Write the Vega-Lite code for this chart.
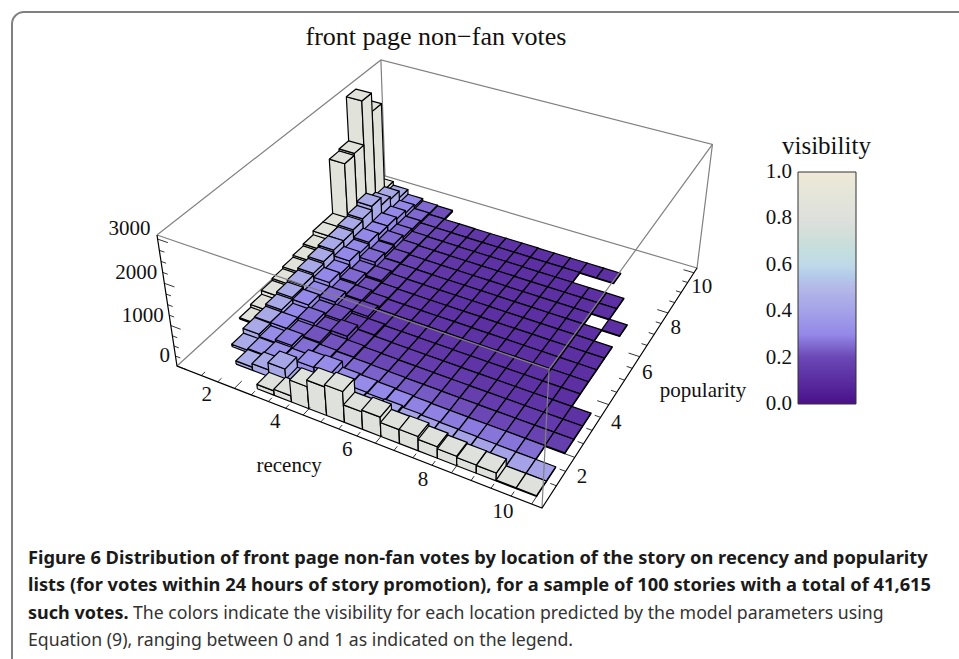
{"$schema":"https://vega.github.io/schema/vega-lite/v6.json","width":959,"height":659,"padding":0,"autosize":{"type":"none"},"background":"white","config":{"view":{"stroke":null}},
"data":{"values":[{}]},
"title":{"text":"front page non−fan votes","orient":"top","anchor":"start","offset":0,"dx":306,"dy":50,"font":"Liberation Serif","fontSize":26,"fontWeight":"normal","color":"#111"},
"layer":[
{"mark":{"type":"rect","x":12,"y":12,"x2":990,"y2":690,"cornerRadius":12,"fill":"white","stroke":"#808080","strokeWidth":2}},
{"mark":{"type":"rule","x":24,"x2":959,"y":12,"y2":12,"stroke":"#000","strokeWidth":1.5},"encoding":{}},
{"data":{"values":[{"edge":"a","n":0,"r":0.25,"p":0.25,"votes":3090},{"edge":"a","n":1,"r":0.25,"p":10.25,"votes":3090},{"edge":"a","n":2,"r":10.25,"p":10.25,"votes":3090},{"edge":"a","n":3,"r":10.25,"p":10.25,"votes":0},{"edge":"a","n":4,"r":0.25,"p":10.25,"votes":0},{"edge":"a","n":5,"r":0.25,"p":0.25,"votes":0},{"edge":"b","n":0,"r":0.25,"p":10.25,"votes":0},{"edge":"b","n":1,"r":0.25,"p":10.25,"votes":3090}]},
"transform":[{"calculate":"(datum.r-0.25)/10","as":"u"},{"calculate":"(datum.p-0.25)/10","as":"v"},{"calculate":"datum.votes/3090","as":"t"},{"calculate":"1-0.1203*datum.u+0.2296*datum.v-0.0668*datum.t","as":"w"},{"calculate":"(299.8*datum.u+296.4*datum.v+177-30.5*datum.t)/datum.w","as":"sx"},{"calculate":"(80.9*datum.u-149.6*datum.v+366-146.7*datum.t)/datum.w","as":"sy"}],
"mark":{"type":"line","stroke":"#808080","strokeWidth":1.2},"encoding":{"x":{"field":"sx","type":"quantitative","scale":{"domain":[0,959]},"axis":null},"y":{"field":"sy","type":"quantitative","scale":{"domain":[0,659],"reverse":true},"axis":null},"detail":{"field":"edge"},"order":{"field":"n"}}},
{"data":{"values":[
{"r":0.5,"p":9,"votes":350,"vis":0.85},{"r":1,"p":9,"votes":250,"vis":0.43},{"r":1.5,"p":9,"votes":120,"vis":0.3},{"r":2,"p":9,"votes":60,"vis":0.25},{"r":2.5,"p":9,"votes":40,"vis":0.21},
{"r":0.5,"p":8.5,"votes":2600,"vis":0.85},{"r":1,"p":8.5,"votes":430,"vis":0.43},{"r":1.5,"p":8.5,"votes":180,"vis":0.3},{"r":2,"p":8.5,"votes":80,"vis":0.25},{"r":2.5,"p":8.5,"votes":40,"vis":0.21},{"r":3,"p":8.5,"votes":30,"vis":0.18},{"r":3.5,"p":8.5,"votes":30,"vis":0.16},{"r":4,"p":8.5,"votes":25,"vis":0.14},{"r":4.5,"p":8.5,"votes":25,"vis":0.12},{"r":5,"p":8.5,"votes":25,"vis":0.12},{"r":5.5,"p":8.5,"votes":25,"vis":0.11},{"r":6,"p":8.5,"votes":20,"vis":0.11},{"r":6.5,"p":8.5,"votes":20,"vis":0.11},{"r":7,"p":8.5,"votes":20,"vis":0.11},{"r":7.5,"p":8.5,"votes":20,"vis":0.11},{"r":8,"p":8.5,"votes":20,"vis":0.11},
{"r":0.5,"p":8,"votes":3050,"vis":0.85},{"r":1,"p":8,"votes":500,"vis":0.43},{"r":1.5,"p":8,"votes":250,"vis":0.3},{"r":2,"p":8,"votes":100,"vis":0.25},{"r":2.5,"p":8,"votes":40,"vis":0.21},{"r":3,"p":8,"votes":35,"vis":0.18},{"r":3.5,"p":8,"votes":30,"vis":0.16},{"r":4,"p":8,"votes":25,"vis":0.14},{"r":4.5,"p":8,"votes":25,"vis":0.12},{"r":5,"p":8,"votes":25,"vis":0.12},{"r":5.5,"p":8,"votes":25,"vis":0.11},{"r":6,"p":8,"votes":20,"vis":0.11},{"r":6.5,"p":8,"votes":20,"vis":0.11},{"r":7,"p":8,"votes":20,"vis":0.11},
{"r":0.5,"p":7.5,"votes":1950,"vis":0.85},{"r":1,"p":7.5,"votes":700,"vis":0.43},{"r":1.5,"p":7.5,"votes":300,"vis":0.3},{"r":2,"p":7.5,"votes":120,"vis":0.25},{"r":2.5,"p":7.5,"votes":50,"vis":0.21},{"r":3,"p":7.5,"votes":35,"vis":0.18},{"r":3.5,"p":7.5,"votes":30,"vis":0.16},{"r":4,"p":7.5,"votes":25,"vis":0.14},{"r":4.5,"p":7.5,"votes":25,"vis":0.12},{"r":5,"p":7.5,"votes":25,"vis":0.12},{"r":5.5,"p":7.5,"votes":25,"vis":0.11},{"r":6,"p":7.5,"votes":20,"vis":0.11},{"r":6.5,"p":7.5,"votes":20,"vis":0.11},{"r":7,"p":7.5,"votes":20,"vis":0.11},{"r":7.5,"p":7.5,"votes":20,"vis":0.11},{"r":8,"p":7.5,"votes":20,"vis":0.11},{"r":8.5,"p":7.5,"votes":20,"vis":0.11},
{"r":0.5,"p":7,"votes":1900,"vis":0.85},{"r":1,"p":7,"votes":600,"vis":0.43},{"r":1.5,"p":7,"votes":300,"vis":0.3},{"r":2,"p":7,"votes":180,"vis":0.25},{"r":2.5,"p":7,"votes":60,"vis":0.21},{"r":3,"p":7,"votes":35,"vis":0.18},{"r":3.5,"p":7,"votes":30,"vis":0.16},{"r":4,"p":7,"votes":25,"vis":0.14},{"r":4.5,"p":7,"votes":25,"vis":0.12},{"r":5,"p":7,"votes":25,"vis":0.12},{"r":5.5,"p":7,"votes":25,"vis":0.11},{"r":6,"p":7,"votes":20,"vis":0.11},{"r":6.5,"p":7,"votes":20,"vis":0.11},{"r":7,"p":7,"votes":20,"vis":0.11},{"r":7.5,"p":7,"votes":20,"vis":0.11},{"r":8,"p":7,"votes":20,"vis":0.11},{"r":8.5,"p":7,"votes":20,"vis":0.11},
{"r":0.5,"p":6.5,"votes":500,"vis":0.85},{"r":1,"p":6.5,"votes":550,"vis":0.43},{"r":1.5,"p":6.5,"votes":350,"vis":0.3},{"r":2,"p":6.5,"votes":150,"vis":0.25},{"r":2.5,"p":6.5,"votes":70,"vis":0.21},{"r":3,"p":6.5,"votes":35,"vis":0.18},{"r":3.5,"p":6.5,"votes":30,"vis":0.16},{"r":4,"p":6.5,"votes":25,"vis":0.14},{"r":4.5,"p":6.5,"votes":25,"vis":0.12},{"r":5,"p":6.5,"votes":25,"vis":0.12},{"r":5.5,"p":6.5,"votes":25,"vis":0.11},{"r":6,"p":6.5,"votes":20,"vis":0.11},{"r":6.5,"p":6.5,"votes":20,"vis":0.11},{"r":7,"p":6.5,"votes":20,"vis":0.11},{"r":7.5,"p":6.5,"votes":20,"vis":0.11},{"r":8,"p":6.5,"votes":20,"vis":0.11},{"r":9,"p":6.5,"votes":20,"vis":0.11},
{"r":0.5,"p":6,"votes":500,"vis":0.85},{"r":1,"p":6,"votes":500,"vis":0.43},{"r":1.5,"p":6,"votes":300,"vis":0.3},{"r":2,"p":6,"votes":200,"vis":0.25},{"r":2.5,"p":6,"votes":60,"vis":0.21},{"r":3,"p":6,"votes":40,"vis":0.18},{"r":3.5,"p":6,"votes":30,"vis":0.16},{"r":4,"p":6,"votes":25,"vis":0.14},{"r":4.5,"p":6,"votes":25,"vis":0.12},{"r":5,"p":6,"votes":25,"vis":0.12},{"r":5.5,"p":6,"votes":25,"vis":0.11},{"r":6,"p":6,"votes":20,"vis":0.11},{"r":6.5,"p":6,"votes":20,"vis":0.11},{"r":7,"p":6,"votes":20,"vis":0.11},{"r":7.5,"p":6,"votes":20,"vis":0.11},{"r":8,"p":6,"votes":20,"vis":0.11},{"r":8.5,"p":6,"votes":20,"vis":0.11},
{"r":0.5,"p":5.5,"votes":400,"vis":0.85},{"r":1,"p":5.5,"votes":500,"vis":0.43},{"r":1.5,"p":5.5,"votes":350,"vis":0.3},{"r":2,"p":5.5,"votes":120,"vis":0.25},{"r":2.5,"p":5.5,"votes":110,"vis":0.21},{"r":3,"p":5.5,"votes":40,"vis":0.18},{"r":3.5,"p":5.5,"votes":30,"vis":0.16},{"r":4,"p":5.5,"votes":25,"vis":0.14},{"r":4.5,"p":5.5,"votes":25,"vis":0.12},{"r":5,"p":5.5,"votes":25,"vis":0.12},{"r":5.5,"p":5.5,"votes":25,"vis":0.11},{"r":6,"p":5.5,"votes":20,"vis":0.11},{"r":6.5,"p":5.5,"votes":20,"vis":0.11},{"r":7,"p":5.5,"votes":20,"vis":0.11},{"r":7.5,"p":5.5,"votes":20,"vis":0.11},{"r":8,"p":5.5,"votes":20,"vis":0.11},{"r":8.5,"p":5.5,"votes":20,"vis":0.11},{"r":9,"p":5.5,"votes":20,"vis":0.11},
{"r":0.5,"p":5,"votes":350,"vis":0.85},{"r":1,"p":5,"votes":450,"vis":0.43},{"r":1.5,"p":5,"votes":250,"vis":0.3},{"r":2,"p":5,"votes":170,"vis":0.25},{"r":2.5,"p":5,"votes":70,"vis":0.21},{"r":3,"p":5,"votes":50,"vis":0.18},{"r":3.5,"p":5,"votes":30,"vis":0.16},{"r":4,"p":5,"votes":25,"vis":0.14},{"r":4.5,"p":5,"votes":25,"vis":0.12},{"r":5,"p":5,"votes":25,"vis":0.12},{"r":5.5,"p":5,"votes":25,"vis":0.12},{"r":6,"p":5,"votes":20,"vis":0.11},{"r":6.5,"p":5,"votes":20,"vis":0.11},{"r":7,"p":5,"votes":20,"vis":0.11},{"r":7.5,"p":5,"votes":20,"vis":0.11},{"r":8,"p":5,"votes":20,"vis":0.11},{"r":8.5,"p":5,"votes":20,"vis":0.11},{"r":9,"p":5,"votes":20,"vis":0.11},
{"r":0.5,"p":4.5,"votes":300,"vis":0.85},{"r":1,"p":4.5,"votes":400,"vis":0.43},{"r":1.5,"p":4.5,"votes":300,"vis":0.3},{"r":2,"p":4.5,"votes":130,"vis":0.25},{"r":2.5,"p":4.5,"votes":120,"vis":0.21},{"r":3,"p":4.5,"votes":60,"vis":0.18},{"r":3.5,"p":4.5,"votes":30,"vis":0.16},{"r":4,"p":4.5,"votes":30,"vis":0.14},{"r":4.5,"p":4.5,"votes":25,"vis":0.13},{"r":5,"p":4.5,"votes":25,"vis":0.13},{"r":5.5,"p":4.5,"votes":25,"vis":0.12},{"r":6,"p":4.5,"votes":20,"vis":0.12},{"r":6.5,"p":4.5,"votes":20,"vis":0.11},{"r":7,"p":4.5,"votes":20,"vis":0.11},{"r":7.5,"p":4.5,"votes":20,"vis":0.11},{"r":8,"p":4.5,"votes":20,"vis":0.11},{"r":8.5,"p":4.5,"votes":20,"vis":0.11},{"r":9,"p":4.5,"votes":20,"vis":0.11},
{"r":0.5,"p":4,"votes":250,"vis":0.85},{"r":1,"p":4,"votes":350,"vis":0.43},{"r":1.5,"p":4,"votes":200,"vis":0.3},{"r":2,"p":4,"votes":200,"vis":0.25},{"r":2.5,"p":4,"votes":90,"vis":0.21},{"r":3,"p":4,"votes":120,"vis":0.18},{"r":3.5,"p":4,"votes":40,"vis":0.16},{"r":4,"p":4,"votes":30,"vis":0.14},{"r":4.5,"p":4,"votes":30,"vis":0.14},{"r":5,"p":4,"votes":25,"vis":0.13},{"r":5.5,"p":4,"votes":25,"vis":0.13},{"r":6,"p":4,"votes":20,"vis":0.12},{"r":6.5,"p":4,"votes":20,"vis":0.12},{"r":7,"p":4,"votes":20,"vis":0.11},{"r":7.5,"p":4,"votes":20,"vis":0.11},{"r":8,"p":4,"votes":20,"vis":0.11},{"r":8.5,"p":4,"votes":20,"vis":0.11},{"r":9,"p":4,"votes":20,"vis":0.11},
{"r":0.5,"p":3.5,"votes":200,"vis":0.85},{"r":1,"p":3.5,"votes":300,"vis":0.43},{"r":1.5,"p":3.5,"votes":250,"vis":0.3},{"r":2,"p":3.5,"votes":120,"vis":0.25},{"r":2.5,"p":3.5,"votes":150,"vis":0.21},{"r":3,"p":3.5,"votes":60,"vis":0.18},{"r":3.5,"p":3.5,"votes":70,"vis":0.16},{"r":4,"p":3.5,"votes":30,"vis":0.16},{"r":4.5,"p":3.5,"votes":30,"vis":0.15},{"r":5,"p":3.5,"votes":25,"vis":0.14},{"r":5.5,"p":3.5,"votes":25,"vis":0.14},{"r":6,"p":3.5,"votes":20,"vis":0.13},{"r":6.5,"p":3.5,"votes":20,"vis":0.13},{"r":7,"p":3.5,"votes":20,"vis":0.12},{"r":7.5,"p":3.5,"votes":20,"vis":0.12},{"r":8,"p":3.5,"votes":20,"vis":0.12},{"r":8.5,"p":3.5,"votes":20,"vis":0.11},{"r":9,"p":3.5,"votes":20,"vis":0.11},
{"r":0.5,"p":3,"votes":100,"vis":0.85},{"r":1,"p":3,"votes":250,"vis":0.43},{"r":1.5,"p":3,"votes":150,"vis":0.3},{"r":2,"p":3,"votes":200,"vis":0.25},{"r":2.5,"p":3,"votes":100,"vis":0.21},{"r":3,"p":3,"votes":170,"vis":0.2},{"r":3.5,"p":3,"votes":60,"vis":0.18},{"r":4,"p":3,"votes":40,"vis":0.18},{"r":4.5,"p":3,"votes":30,"vis":0.17},{"r":5,"p":3,"votes":30,"vis":0.16},{"r":5.5,"p":3,"votes":25,"vis":0.16},{"r":6,"p":3,"votes":25,"vis":0.15},{"r":6.5,"p":3,"votes":20,"vis":0.15},{"r":7,"p":3,"votes":20,"vis":0.14},{"r":7.5,"p":3,"votes":20,"vis":0.14},{"r":8,"p":3,"votes":20,"vis":0.13},{"r":8.5,"p":3,"votes":20,"vis":0.13},{"r":9,"p":3,"votes":20,"vis":0.12},{"r":9.5,"p":3,"votes":20,"vis":0.12},
{"r":0.5,"p":2.5,"votes":30,"vis":0.85},{"r":1,"p":2.5,"votes":200,"vis":0.43},{"r":1.5,"p":2.5,"votes":200,"vis":0.3},{"r":2,"p":2.5,"votes":130,"vis":0.25},{"r":2.5,"p":2.5,"votes":150,"vis":0.22},{"r":3,"p":2.5,"votes":90,"vis":0.22},{"r":3.5,"p":2.5,"votes":80,"vis":0.21},{"r":4,"p":2.5,"votes":50,"vis":0.2},{"r":4.5,"p":2.5,"votes":40,"vis":0.2},{"r":5,"p":2.5,"votes":30,"vis":0.19},{"r":5.5,"p":2.5,"votes":30,"vis":0.18},{"r":6,"p":2.5,"votes":25,"vis":0.18},{"r":6.5,"p":2.5,"votes":25,"vis":0.17},{"r":7,"p":2.5,"votes":20,"vis":0.17},{"r":7.5,"p":2.5,"votes":20,"vis":0.16},{"r":8,"p":2.5,"votes":20,"vis":0.16},{"r":8.5,"p":2.5,"votes":20,"vis":0.15},{"r":9,"p":2.5,"votes":20,"vis":0.15},{"r":9.5,"p":2.5,"votes":20,"vis":0.14},
{"r":1,"p":2,"votes":180,"vis":0.43},{"r":1.5,"p":2,"votes":120,"vis":0.32},{"r":2,"p":2,"votes":200,"vis":0.28},{"r":2.5,"p":2,"votes":120,"vis":0.26},{"r":3,"p":2,"votes":100,"vis":0.26},{"r":3.5,"p":2,"votes":70,"vis":0.25},{"r":4,"p":2,"votes":60,"vis":0.25},{"r":4.5,"p":2,"votes":50,"vis":0.24},{"r":5,"p":2,"votes":40,"vis":0.24},{"r":5.5,"p":2,"votes":30,"vis":0.23},{"r":6,"p":2,"votes":30,"vis":0.23},{"r":6.5,"p":2,"votes":25,"vis":0.22},{"r":7,"p":2,"votes":25,"vis":0.21},{"r":7.5,"p":2,"votes":20,"vis":0.2},{"r":8,"p":2,"votes":20,"vis":0.2},{"r":8.5,"p":2,"votes":20,"vis":0.19},{"r":9,"p":2,"votes":20,"vis":0.18},{"r":9.5,"p":2,"votes":20,"vis":0.17},
{"r":1,"p":1.5,"votes":60,"vis":0.44},{"r":1.5,"p":1.5,"votes":100,"vis":0.36},{"r":2,"p":1.5,"votes":150,"vis":0.33},{"r":2.5,"p":1.5,"votes":130,"vis":0.33},{"r":3,"p":1.5,"votes":250,"vis":0.32},{"r":3.5,"p":1.5,"votes":270,"vis":0.32},{"r":4,"p":1.5,"votes":120,"vis":0.31},{"r":4.5,"p":1.5,"votes":100,"vis":0.31},{"r":5,"p":1.5,"votes":80,"vis":0.3},{"r":5.5,"p":1.5,"votes":60,"vis":0.3},{"r":6,"p":1.5,"votes":40,"vis":0.29},{"r":6.5,"p":1.5,"votes":30,"vis":0.29},{"r":7,"p":1.5,"votes":25,"vis":0.28},{"r":7.5,"p":1.5,"votes":20,"vis":0.28},{"r":8,"p":1.5,"votes":20,"vis":0.27},{"r":8.5,"p":1.5,"votes":20,"vis":0.27},{"r":9,"p":1.5,"votes":20,"vis":0.26},
{"r":1.5,"p":1,"votes":80,"vis":0.46},{"r":2,"p":1,"votes":170,"vis":0.43},{"r":2.5,"p":1,"votes":350,"vis":0.42},{"r":3,"p":1,"votes":100,"vis":0.42},{"r":3.5,"p":1,"votes":100,"vis":0.41},{"r":4,"p":1,"votes":80,"vis":0.41},{"r":4.5,"p":1,"votes":120,"vis":0.41},{"r":5,"p":1,"votes":100,"vis":0.41},{"r":5.5,"p":1,"votes":120,"vis":0.41},{"r":6,"p":1,"votes":80,"vis":0.4},{"r":6.5,"p":1,"votes":60,"vis":0.4},{"r":7,"p":1,"votes":50,"vis":0.4},{"r":7.5,"p":1,"votes":40,"vis":0.4},{"r":8,"p":1,"votes":30,"vis":0.4},{"r":8.5,"p":1,"votes":25,"vis":0.4},{"r":9,"p":1,"votes":20,"vis":0.4},{"r":9.5,"p":1,"votes":20,"vis":0.4},
{"r":2.5,"p":0.5,"votes":110,"vis":0.82},{"r":3,"p":0.5,"votes":150,"vis":0.82},{"r":3.5,"p":0.5,"votes":540,"vis":0.82},{"r":4,"p":0.5,"votes":700,"vis":0.82},{"r":4.5,"p":0.5,"votes":750,"vis":0.82},{"r":5,"p":0.5,"votes":430,"vis":0.82},{"r":5.5,"p":0.5,"votes":470,"vis":0.82},{"r":6,"p":0.5,"votes":340,"vis":0.82},{"r":6.5,"p":0.5,"votes":350,"vis":0.82},{"r":7,"p":0.5,"votes":280,"vis":0.82},{"r":7.5,"p":0.5,"votes":230,"vis":0.82},{"r":8,"p":0.5,"votes":200,"vis":0.82},{"r":8.5,"p":0.5,"votes":190,"vis":0.82},{"r":9,"p":0.5,"votes":20,"vis":0.82},{"r":9.5,"p":0.5,"votes":20,"vis":0.82}
]},
"transform":[{"calculate":"[0,1,2,3,4,5,6,7,8,9,10,11,12,13,14]","as":"corner"},{"flatten":["corner"]},{"calculate":"datum.r+'_'+datum.p+'_'+floor(datum.corner/5)","as":"face"},{"calculate":"(datum.r+0.5*[0,1,1,0,0,1,1,1,1,1,0,1,1,0,0][datum.corner]-0.25)/10","as":"u"},{"calculate":"(datum.p+0.5*[0,0,0,0,0,0,1,1,0,0,0,0,1,1,0][datum.corner]-0.25)/10","as":"v"},{"calculate":"[0,0,1,1,0,0,0,1,1,0,1,1,1,1,1][datum.corner]*datum.votes/3090","as":"t"},{"calculate":"1-0.1203*datum.u+0.2296*datum.v-0.0668*datum.t","as":"w"},{"calculate":"(299.8*datum.u+296.4*datum.v+177-30.5*datum.t)/datum.w","as":"sx"},{"calculate":"(80.9*datum.u-149.6*datum.v+366-146.7*datum.t)/datum.w","as":"sy"}],
"mark":{"type":"line","stroke":"#000","strokeWidth":1.2,"strokeJoin":"round"},
"encoding":{"x":{"field":"sx","type":"quantitative","scale":{"domain":[0,959]},"axis":null},"y":{"field":"sy","type":"quantitative","scale":{"domain":[0,659],"reverse":true},"axis":null},"detail":{"field":"face"},"order":{"field":"corner"},"fill":{"field":"vis","type":"quantitative","scale":{"domain":[0,0.1,0.2,0.3,0.4,0.5,0.6,0.8,1],"range":["#4A0F8A","#5A2CA0","#6B47B5","#9488E8","#A5A2E8","#B3B8E8","#C0D9E8","#DEE0DC","#EFE9D7"]},"legend":{"orient":"none","legendX":782,"legendY":134,"title":"visibility","titleFont":"Liberation Serif","titleFontSize":25,"titleFontWeight":"normal","titleColor":"#111","titlePadding":13,"gradientLength":232,"gradientThickness":58,"values":[0,0.2,0.4,0.6,0.8,1],"format":".1f","labelFont":"Liberation Serif","labelFontSize":21,"labelColor":"#111","gradientStrokeColor":"#333","gradientStrokeWidth":1,"encoding":{"labels":{"x":{"value":-6},"align":{"value":"right"},"baseline":{"value":"middle"}},"title":{"dx":{"value":-16}}}}}}},
{"data":{"values":[{"edge":"a","n":0,"r":0.25,"p":0.25,"votes":3090},{"edge":"a","n":1,"r":10.25,"p":0.25,"votes":3090},{"edge":"a","n":2,"r":10.25,"p":10.25,"votes":3090},{"edge":"b","n":0,"r":10.25,"p":0.25,"votes":3090},{"edge":"b","n":1,"r":10.25,"p":0.25,"votes":0}]},
"transform":[{"calculate":"(datum.r-0.25)/10","as":"u"},{"calculate":"(datum.p-0.25)/10","as":"v"},{"calculate":"datum.votes/3090","as":"t"},{"calculate":"1-0.1203*datum.u+0.2296*datum.v-0.0668*datum.t","as":"w"},{"calculate":"(299.8*datum.u+296.4*datum.v+177-30.5*datum.t)/datum.w","as":"sx"},{"calculate":"(80.9*datum.u-149.6*datum.v+366-146.7*datum.t)/datum.w","as":"sy"}],
"mark":{"type":"line","stroke":"#808080","strokeWidth":1.2},"encoding":{"x":{"field":"sx","type":"quantitative","scale":{"domain":[0,959]},"axis":null},"y":{"field":"sy","type":"quantitative","scale":{"domain":[0,659],"reverse":true},"axis":null},"detail":{"field":"edge"},"order":{"field":"n"}}},
{"data":{"values":[{"edge":"a","n":0,"r":0.25,"p":0.25,"votes":3090},{"edge":"a","n":1,"r":0.25,"p":0.25,"votes":0},{"edge":"a","n":2,"r":10.25,"p":0.25,"votes":0},{"edge":"a","n":3,"r":10.25,"p":10.25,"votes":0}]},
"transform":[{"calculate":"(datum.r-0.25)/10","as":"u"},{"calculate":"(datum.p-0.25)/10","as":"v"},{"calculate":"datum.votes/3090","as":"t"},{"calculate":"1-0.1203*datum.u+0.2296*datum.v-0.0668*datum.t","as":"w"},{"calculate":"(299.8*datum.u+296.4*datum.v+177-30.5*datum.t)/datum.w","as":"sx"},{"calculate":"(80.9*datum.u-149.6*datum.v+366-146.7*datum.t)/datum.w","as":"sy"}],
"mark":{"type":"line","stroke":"#000","strokeWidth":1.2},"encoding":{"x":{"field":"sx","type":"quantitative","scale":{"domain":[0,959]},"axis":null},"y":{"field":"sy","type":"quantitative","scale":{"domain":[0,659],"reverse":true},"axis":null},"detail":{"field":"edge"},"order":{"field":"n"}}},
{"data":{"values":[{"axis":"r","value":1,"major":0},{"axis":"r","value":1.5,"major":0},{"axis":"r","value":2,"major":1},{"axis":"r","value":2.5,"major":0},{"axis":"r","value":3,"major":0},{"axis":"r","value":3.5,"major":0},{"axis":"r","value":4,"major":1},{"axis":"r","value":4.5,"major":0},{"axis":"r","value":5,"major":0},{"axis":"r","value":5.5,"major":0},{"axis":"r","value":6,"major":1},{"axis":"r","value":6.5,"major":0},{"axis":"r","value":7,"major":0},{"axis":"r","value":7.5,"major":0},{"axis":"r","value":8,"major":1},{"axis":"r","value":8.5,"major":0},{"axis":"r","value":9,"major":0},{"axis":"r","value":9.5,"major":0},{"axis":"r","value":10,"major":1},{"axis":"p","value":1,"major":0},{"axis":"p","value":1.5,"major":0},{"axis":"p","value":2,"major":1},{"axis":"p","value":2.5,"major":0},{"axis":"p","value":3,"major":0},{"axis":"p","value":3.5,"major":0},{"axis":"p","value":4,"major":1},{"axis":"p","value":4.5,"major":0},{"axis":"p","value":5,"major":0},{"axis":"p","value":5.5,"major":0},{"axis":"p","value":6,"major":1},{"axis":"p","value":6.5,"major":0},{"axis":"p","value":7,"major":0},{"axis":"p","value":7.5,"major":0},{"axis":"p","value":8,"major":1},{"axis":"p","value":8.5,"major":0},{"axis":"p","value":9,"major":0},{"axis":"p","value":9.5,"major":0},{"axis":"p","value":10,"major":1},{"axis":"z","value":0,"major":1},{"axis":"z","value":250,"major":0},{"axis":"z","value":500,"major":0},{"axis":"z","value":750,"major":0},{"axis":"z","value":1000,"major":1},{"axis":"z","value":1250,"major":0},{"axis":"z","value":1500,"major":0},{"axis":"z","value":1750,"major":0},{"axis":"z","value":2000,"major":1},{"axis":"z","value":2250,"major":0},{"axis":"z","value":2500,"major":0},{"axis":"z","value":2750,"major":0},{"axis":"z","value":3000,"major":1}]},
"transform":[{"calculate":"[0,1]","as":"end"},{"flatten":["end"]},{"calculate":"datum.end*(datum.major?0.03:0.015)","as":"len"},{"calculate":"datum.axis+datum.value","as":"tick"},{"calculate":"datum.axis=='r'?(datum.value-0.25)/10:datum.axis=='p'?1-datum.len:datum.len","as":"u"},{"calculate":"datum.axis=='r'?datum.len:datum.axis=='p'?(datum.value-0.25)/10:0","as":"v"},{"calculate":"datum.axis=='z'?datum.value/3090:0","as":"t"},{"calculate":"1-0.1203*datum.u+0.2296*datum.v-0.0668*datum.t","as":"w"},{"calculate":"(299.8*datum.u+296.4*datum.v+177-30.5*datum.t)/datum.w","as":"sx"},{"calculate":"(80.9*datum.u-149.6*datum.v+366-146.7*datum.t)/datum.w","as":"sy"}],
"mark":{"type":"line","stroke":"#000","strokeWidth":0.8},"encoding":{"x":{"field":"sx","type":"quantitative","scale":{"domain":[0,959]},"axis":null},"y":{"field":"sy","type":"quantitative","scale":{"domain":[0,659],"reverse":true},"axis":null},"detail":{"field":"tick"},"order":{"field":"end"}}},
{"data":{"values":[{"vis":0.1,"major":0},{"vis":0.2,"major":1},{"vis":0.3,"major":0},{"vis":0.4,"major":1},{"vis":0.5,"major":0},{"vis":0.6,"major":1},{"vis":0.7,"major":0},{"vis":0.8,"major":1},{"vis":0.9,"major":0}]},
"transform":[{"calculate":"[0,1,2,3]","as":"end"},{"flatten":["end"]},{"calculate":"datum.end<2?'l'+datum.vis:'r'+datum.vis","as":"tick"},{"calculate":"(datum.major?5:3)","as":"len"},{"calculate":"[798,798+datum.len,856,856-datum.len][datum.end]","as":"sx"},{"calculate":"404-232*datum.vis","as":"sy"}],
"mark":{"type":"line","stroke":"#333","strokeWidth":0.8},"encoding":{"x":{"field":"sx","type":"quantitative","scale":{"domain":[0,959]},"axis":null},"y":{"field":"sy","type":"quantitative","scale":{"domain":[0,659],"reverse":true},"axis":null},"detail":{"field":"tick"},"order":{"field":"end"}}},
{"data":{"values":[{"label":"2","r":1.55,"p":-0.25},{"label":"4","r":3.55,"p":-0.25},{"label":"6","r":5.55,"p":-0.25},{"label":"8","r":7.55,"p":-0.25},{"label":"10","r":9.55,"p":-0.25},{"label":"2","r":10.65,"p":1.5},{"label":"4","r":10.65,"p":3.5},{"label":"6","r":10.65,"p":5.5},{"label":"8","r":10.65,"p":7.5},{"label":"10","r":10.65,"p":9.5},{"label":"recency","r":4.66,"p":-1.29},{"label":"popularity","r":12.08,"p":5.53}]},
"transform":[{"calculate":"(datum.r-0.25)/10","as":"u"},{"calculate":"(datum.p-0.25)/10","as":"v"},{"calculate":"1-0.1203*datum.u+0.2296*datum.v","as":"w"},{"calculate":"(299.8*datum.u+296.4*datum.v+177)/datum.w","as":"sx"},{"calculate":"(80.9*datum.u-149.6*datum.v+366)/datum.w","as":"sy"}],
"mark":{"type":"text","font":"Liberation Serif","fontSize":21,"color":"#111","align":"center","baseline":"middle"},"encoding":{"x":{"field":"sx","type":"quantitative","scale":{"domain":[0,959]},"axis":null},"y":{"field":"sy","type":"quantitative","scale":{"domain":[0,659],"reverse":true},"axis":null},"text":{"field":"label"}}},
{"data":{"values":[{"label":"0","votes":0},{"label":"1000","votes":1000},{"label":"2000","votes":2000},{"label":"3000","votes":3000}]},
"transform":[{"calculate":"datum.votes/3090","as":"t"},{"calculate":"1-0.0668*datum.t","as":"w"},{"calculate":"(177-30.5*datum.t)/datum.w","as":"sx"},{"calculate":"(366-146.7*datum.t)/datum.w","as":"sy"}],
"mark":{"type":"text","font":"Liberation Serif","fontSize":21,"color":"#111","align":"right","baseline":"middle","dx":-7,"dy":-10},"encoding":{"x":{"field":"sx","type":"quantitative","scale":{"domain":[0,959]},"axis":null},"y":{"field":"sy","type":"quantitative","scale":{"domain":[0,659],"reverse":true},"axis":null},"text":{"field":"label"}}},
{"mark":{"type":"text","x":28,"y":559,"text":"Figure 6  Distribution of front page non-fan votes by location of the story on recency and popularity","font":"Noto Sans","fontSize":18.3,"fontWeight":"bold","color":"#1a1a1a","align":"left","baseline":"middle"}},
{"mark":{"type":"text","x":28,"y":586,"text":"lists (for votes within 24 hours of story promotion), for a sample of 100 stories with a total of 41,615","font":"Noto Sans","fontSize":18.3,"fontWeight":"bold","color":"#1a1a1a","align":"left","baseline":"middle"}},
{"mark":{"type":"text","x":28,"y":614,"text":"such votes.","font":"Noto Sans","fontSize":18,"fontWeight":"bold","color":"#1a1a1a","align":"left","baseline":"middle"}},
{"mark":{"type":"text","x":133,"y":614,"text":"The colors indicate the visibility for each location predicted by the model parameters using","font":"Noto Sans","fontSize":17.7,"color":"#333","align":"left","baseline":"middle"}},
{"mark":{"type":"text","x":28,"y":641,"text":"Equation (9), ranging between 0 and 1 as indicated on the legend.","font":"Noto Sans","fontSize":17.7,"color":"#333","align":"left","baseline":"middle"}}
]}
